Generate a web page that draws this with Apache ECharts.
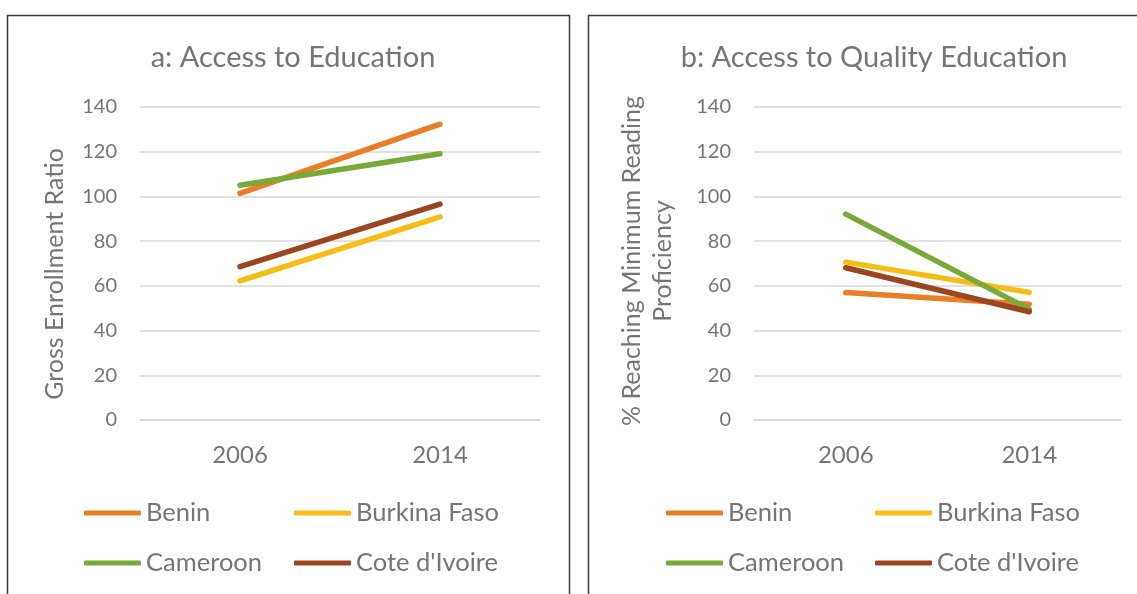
<!DOCTYPE html>
<html>
<head>
<meta charset="utf-8">
<script src="https://cdn.jsdelivr.net/npm/echarts@6/dist/echarts.min.js"></script>
<style>
  html, body { margin: 0; padding: 0; background: #fff; }
  #chart { width: 1137px; height: 594px; }
</style>
</head>
<body>
<div id="chart"></div>
<script>
var years = ['2006', '2014'];
var countries = ['Benin', 'Burkina Faso', 'Cameroon', "Cote d'Ivoire"];
var yTicks = { min: 0, max: 140, step: 20 };

// a: gross enrollment ratio
var accessBenin = [101.4, 132.3];
var accessBurkina = [62.2, 90.9];
var accessCameroon = [105.0, 119.1];
var accessCote = [68.6, 96.6];

// b: % reaching minimum reading proficiency
var qualityBenin = [57.0, 51.8];
var qualityBurkina = [70.6, 57.1];
var qualityCameroon = [92.1, 49.6];
var qualityCote = [68.1, 48.4];

var colors = ['#E97E27', '#F7BD17', '#78AA3A', '#9C4620'];
var txt = '#757575';
var font = 'Lato';

var mychart = echarts.init(document.getElementById('chart'));

function makeSeries(idx, arrs) {
    return arrs.map(function (d, i) {
        return {
            name: countries[i],
            type: 'line',
            xAxisIndex: idx,
            yAxisIndex: idx,
            data: d,
            symbol: 'none',
            color: colors[i],
            lineStyle: { width: 5.5, cap: 'round', color: colors[i] },
            emphasis: { disabled: true }
        };
    });
}

function xAx(idx) {
    return {
        type: 'category',
        gridIndex: idx,
        data: years,
        boundaryGap: true,
        axisLine: { lineStyle: { color: '#d9d9d9', width: 1.5 } },
        axisTick: { show: false },
        axisLabel: { color: txt, fontSize: 24, fontFamily: font, margin: 23 }
    };
}

function yAx(idx) {
    return {
        type: 'value',
        gridIndex: idx,
        min: yTicks.min,
        max: yTicks.max,
        interval: yTicks.step,
        axisLine: { show: false },
        axisTick: { show: false },
        splitLine: { lineStyle: { color: '#d9d9d9', width: 1.5 } },
        axisLabel: { color: txt, fontSize: 20, fontFamily: font, margin: 23 }
    };
}

function legendCol(names, left, top) {
    return {
        data: names,
        orient: 'vertical',
        left: left,
        top: top,
        padding: 0,
        itemWidth: 57,
        itemHeight: 5,
        itemGap: 24,
        itemTextGap: 2,
        icon: 'roundRect',
        textStyle: { color: txt, fontSize: 25.5, fontFamily: font, lineHeight: 26 }
    };
}

function axisTitle(lines, x, y, size) {
    return {
        type: 'text',
        x: x,
        y: y,
        rotation: Math.PI / 2,
        silent: true,
        style: {
            text: lines,
            fill: txt,
            fontSize: size,
            fontFamily: font,
            lineHeight: 31,
            align: 'center',
            verticalAlign: 'middle'
        }
    };
}

option = {
    backgroundColor: '#ffffff',
    animation: false,
    title: [
        {
            text: 'a: Access to Education',
            left: 288, top: 38, textAlign: 'center',
            textStyle: { color: txt, fontSize: 29, fontWeight: 'normal', fontFamily: font }
        },
        {
            text: 'b: Access to Quality Education',
            left: 869, top: 38, textAlign: 'center',
            textStyle: { color: txt, fontSize: 29, fontWeight: 'normal', fontFamily: font }
        }
    ],
    grid: [
        { left: 140, top: 107, width: 400, height: 313 },
        { left: 754, top: 107, width: 367, height: 313 }
    ],
    xAxis: [xAx(0), xAx(1)],
    yAxis: [yAx(0), yAx(1)],
    legend: [
        legendCol(['Benin', 'Cameroon'], 84, 500),
        legendCol(['Burkina Faso', "Cote d'Ivoire"], 294, 500),
        legendCol(['Benin', 'Cameroon'], 666, 500),
        legendCol(['Burkina Faso', "Cote d'Ivoire"], 875, 500)
    ],
    graphic: [
        {
            type: 'rect', silent: true,
            shape: { x: 7.5, y: 15.5, width: 562, height: 700 },
            style: { fill: 'none', stroke: '#3a3a3a', lineWidth: 1.5 }
        },
        {
            type: 'rect', silent: true,
            shape: { x: 588.5, y: 15.5, width: 600, height: 700 },
            style: { fill: 'none', stroke: '#3a3a3a', lineWidth: 1.5 }
        },
        axisTitle('Gross Enrollment Ratio', 55, 274, 25),
        axisTitle('% Reaching Minimum Reading\nProficiency', 647, 261, 25)
    ],
    series: makeSeries(0, [accessBenin, accessBurkina, accessCameroon, accessCote])
        .concat(makeSeries(1, [qualityBenin, qualityBurkina, qualityCameroon, qualityCote]))
};
mychart.setOption(option, true);
</script>
</body>
</html>
